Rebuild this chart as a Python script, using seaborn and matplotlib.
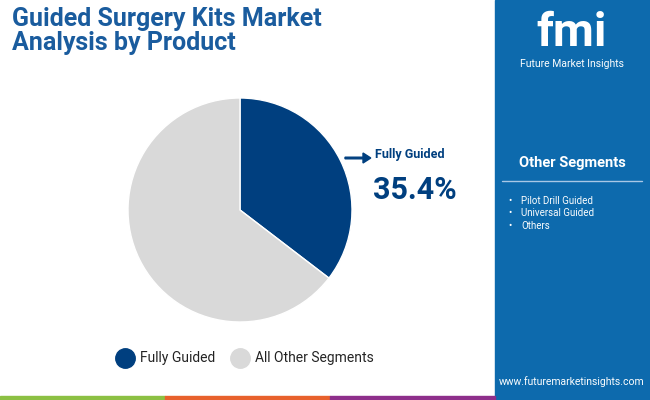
import matplotlib
matplotlib.use('Agg')
import matplotlib.pyplot as plt
import seaborn as sns
from matplotlib.patches import Rectangle

sns.set_style("white")
plt.rcParams['font.family'] = 'Roboto'

# ── 数据 ──
labels = ['Fully Guided', 'All Other Segments']
shares = [35.4, 64.6]
colors = ['#003f7f', '#d9d9d9']
other_segments = ['Pilot Drill Guided', 'Universal Guided', 'Others']

fig = plt.figure(figsize=(6.5, 4), dpi=100)
fig.patch.set_facecolor('white')

# 右侧蓝色面板
fig.add_artist(Rectangle((495/650, 0), 155/650, 1, transform=fig.transFigure,
                         color='#0d6aad', zorder=0))
# 底部彩条
for i, c in enumerate(['#8cc043', '#e8612c', '#8e2f8b']):
    fig.add_artist(Rectangle((i*165/650, 0), 165/650, 4/400, transform=fig.transFigure,
                             color=c, zorder=1))

fig.text(12/650, 1-31/400, 'Guided Surgery Kits Market\nAnalysis by Product',
         fontsize=18, fontweight='bold', color='#1a5c9e', va='center', linespacing=1.05)

# 饼图
ax = fig.add_axes([128/650, 78/400, 224/650, 224/400])
ax.pie(shares, colors=colors, startangle=90, counterclock=False, radius=1)
ax.set_xlim(-1, 1)
ax.set_ylim(-1, 1)
ax.set_aspect('equal')
ax.axis('off')

fig.add_artist(matplotlib.patches.FancyArrow(345/650, 1-158/400, 18/650, 0,
               width=0.004, head_width=0.025, head_length=0.012,
               transform=fig.transFigure, color='#003f7f'))
fig.text(375/650, 1-155/400, 'Fully Guided', fontsize=9, fontweight='bold',
         color='#003f7f', va='center')
fig.text(373/650, 1-190/400, f'{shares[0]}%', fontsize=22, fontweight='bold',
         color='#003f7f', va='center')

# 图例
for x, lab, c in [(125, labels[0], colors[0]), (240, labels[1], colors[1])]:
    fig.add_artist(plt.Line2D([x/650], [1-358/400], marker='o', markersize=14,
                              color=c, transform=fig.transFigure))
    fig.text((x+15)/650, 1-358/400, lab, fontsize=10, color='#222222', va='center')

# 右侧面板文字
fig.text(572/650, 1-33/400, 'fmi', fontsize=34, fontweight='bold', color='white',
         ha='center', va='center')
fig.text(572/650, 1-64/400, 'Future Market Insights', fontsize=7.5, color='white',
         ha='center', va='center')
fig.text(572/650, 1-163/400, 'Other Segments', fontsize=10.5, fontweight='bold',
         color='white', ha='center', va='center')
fig.add_artist(plt.Line2D([502/650, 642/650], [1-181/400]*2, color='#a9c8e6', lw=1))
for i, s in enumerate(other_segments):
    y = 1-(201+12.5*i)/400
    fig.text(508/650, y, '•', fontsize=7, color='white', va='center')
    fig.text(521/650, y, s, fontsize=7, color='white', va='center')
fig.text(572/650, 1-382/400, 'www.futuremarketinsights.com', fontsize=7.5,
         color='white', ha='center', va='center')

fig.savefig('out.png', dpi=100)
